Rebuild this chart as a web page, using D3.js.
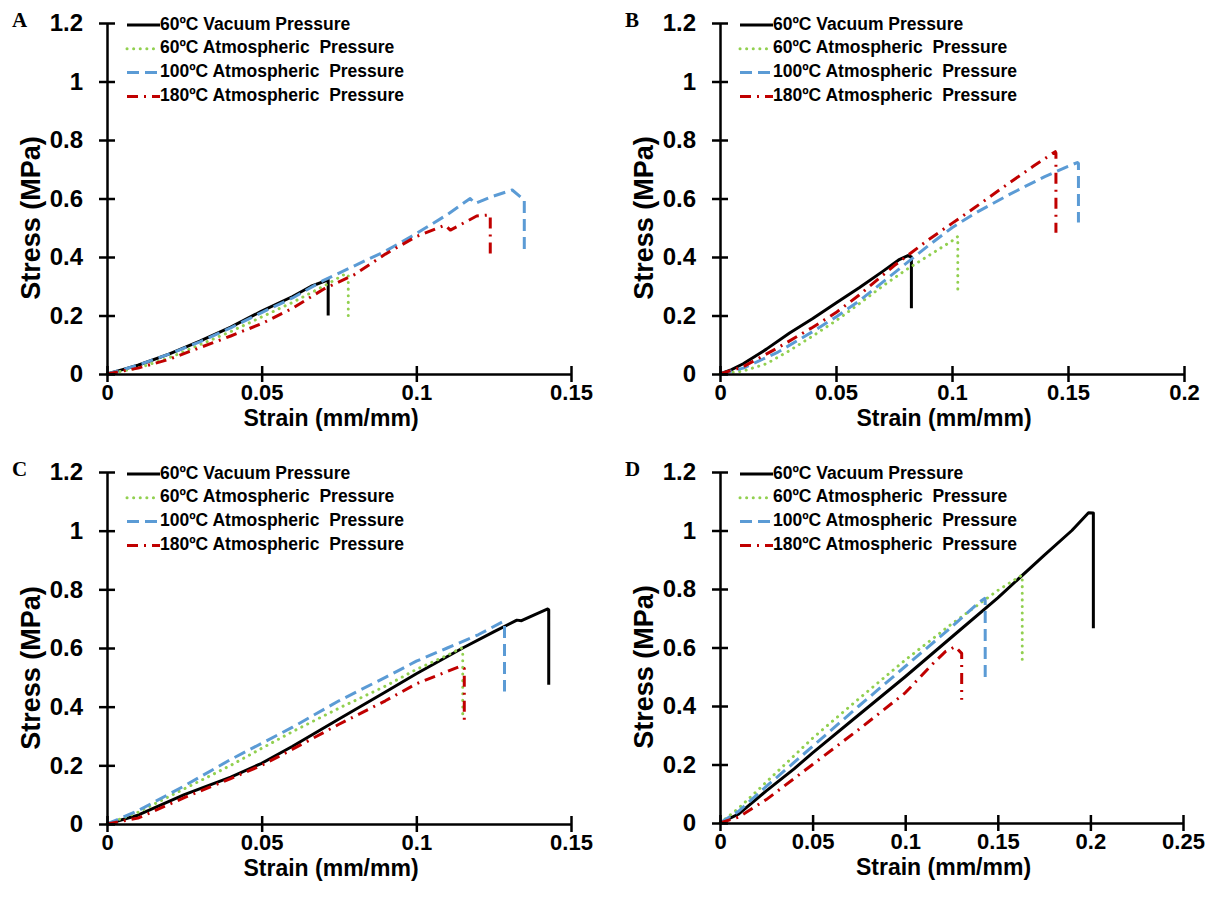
<!DOCTYPE html>
<html>
<head>
<meta charset="utf-8">
<script src="https://cdn.jsdelivr.net/npm/d3@7"></script>
<style>
  body { margin: 0; background: #fff; }
  text { font-family: Arial, "Liberation Sans", sans-serif; font-weight: bold; fill: #000; }
</style>
</head>
<body>
<svg id="chart" width="1219" height="897"></svg>
<script>
// legend labels, one per series
const seriesNames = ["60ºC Vacuum Pressure", "60ºC Atmospheric  Pressure", "100ºC Atmospheric  Pressure", "180ºC Atmospheric  Pressure"];
const panelLetters = ["A", "B", "C", "D"];

// tick values
const yTicks = [0, 0.2, 0.4, 0.6, 0.8, 1, 1.2];
const xTicksA = [0, 0.05, 0.1, 0.15];
const xTicksB = [0, 0.05, 0.1, 0.15, 0.2];
const xTicksC = [0, 0.05, 0.1, 0.15];
const xTicksD = [0, 0.05, 0.1, 0.15, 0.2, 0.25];

// [strain, stress]
const aVac60 = [[0,0],[0.005,0.015],[0.01,0.03],[0.02,0.068],[0.03,0.112],[0.04,0.16],[0.05,0.215],[0.06,0.265],[0.066,0.3],[0.0715,0.322],[0.0715,0.2]];
const aAtm60 = [[0,0],[0.01,0.02],[0.02,0.055],[0.03,0.1],[0.04,0.145],[0.05,0.195],[0.06,0.245],[0.07,0.3],[0.077,0.342],[0.078,0.34],[0.078,0.195]];
const aAtm100 = [[0,0],[0.01,0.03],[0.02,0.068],[0.03,0.11],[0.04,0.158],[0.05,0.21],[0.06,0.26],[0.07,0.32],[0.08,0.37],[0.09,0.42],[0.1,0.48],[0.11,0.545],[0.1174,0.6],[0.119,0.583],[0.124,0.605],[0.131,0.629],[0.1349,0.595],[0.1349,0.424]];
const aAtm180 = [[0,0],[0.01,0.02],[0.02,0.05],[0.03,0.09],[0.04,0.13],[0.05,0.172],[0.06,0.225],[0.07,0.29],[0.08,0.34],[0.09,0.41],[0.1,0.47],[0.1093,0.509],[0.111,0.492],[0.1195,0.54],[0.1239,0.544],[0.1239,0.41]];

const bVac60 = [[0,0],[0.005,0.015],[0.01,0.035],[0.02,0.085],[0.03,0.14],[0.04,0.19],[0.05,0.243],[0.06,0.295],[0.07,0.35],[0.077,0.39],[0.081,0.405],[0.0825,0.4],[0.0825,0.225]];
const bAtm60 = [[0,0],[0.01,0.01],[0.02,0.035],[0.03,0.08],[0.04,0.13],[0.05,0.182],[0.06,0.24],[0.07,0.3],[0.08,0.355],[0.09,0.405],[0.1,0.455],[0.1025,0.47],[0.1025,0.275]];
const bAtm100 = [[0,0],[0.01,0.02],[0.025,0.075],[0.04,0.145],[0.05,0.195],[0.06,0.25],[0.075,0.345],[0.09,0.44],[0.1,0.5],[0.11,0.55],[0.125,0.615],[0.14,0.675],[0.15,0.71],[0.154,0.723],[0.1545,0.72],[0.1545,0.518]];
const bAtm180 = [[0,0],[0.01,0.025],[0.025,0.09],[0.04,0.16],[0.05,0.21],[0.06,0.27],[0.075,0.37],[0.09,0.46],[0.1,0.515],[0.11,0.57],[0.125,0.655],[0.135,0.71],[0.1445,0.76],[0.1448,0.755],[0.1448,0.483]];

const cVac60 = [[0,0],[0.01,0.03],[0.025,0.1],[0.04,0.16],[0.05,0.207],[0.06,0.265],[0.075,0.358],[0.09,0.45],[0.1,0.512],[0.115,0.6],[0.125,0.655],[0.1325,0.695],[0.134,0.693],[0.1385,0.715],[0.1425,0.733],[0.1428,0.73],[0.1428,0.475]];
const cAtm60 = [[0,0],[0.01,0.04],[0.025,0.12],[0.04,0.2],[0.05,0.258],[0.06,0.315],[0.075,0.395],[0.09,0.47],[0.1,0.527],[0.11,0.575],[0.1145,0.6],[0.115,0.595],[0.115,0.36]];
const cAtm100 = [[0,0],[0.01,0.045],[0.025,0.13],[0.04,0.22],[0.05,0.275],[0.06,0.33],[0.075,0.42],[0.09,0.5],[0.1,0.555],[0.11,0.6],[0.12,0.645],[0.128,0.69],[0.1285,0.685],[0.1285,0.452]];
const cAtm180 = [[0,0],[0.01,0.02],[0.025,0.09],[0.04,0.155],[0.05,0.2],[0.06,0.255],[0.075,0.34],[0.09,0.42],[0.1,0.478],[0.11,0.52],[0.1142,0.538],[0.1155,0.53],[0.1155,0.355]];

const dVac60 = [[0,0],[0.01,0.03],[0.025,0.11],[0.04,0.185],[0.05,0.24],[0.075,0.37],[0.1,0.5],[0.125,0.635],[0.15,0.77],[0.175,0.915],[0.19,1.0],[0.199,1.061],[0.2016,1.06],[0.2016,0.666]];
const dAtm60 = [[0,0],[0.01,0.05],[0.025,0.14],[0.05,0.29],[0.075,0.425],[0.1,0.557],[0.125,0.68],[0.15,0.795],[0.163,0.847],[0.1632,0.845],[0.1632,0.54]];
const dAtm100 = [[0,0],[0.01,0.04],[0.025,0.125],[0.05,0.262],[0.075,0.4],[0.1,0.535],[0.125,0.67],[0.14,0.755],[0.1429,0.768],[0.1432,0.76],[0.1432,0.489]];
const dAtm180 = [[0,0],[0.01,0.02],[0.025,0.08],[0.05,0.2],[0.075,0.32],[0.1,0.445],[0.115,0.545],[0.1217,0.586],[0.127,0.603],[0.1305,0.58],[0.1305,0.421]];

const lineStyles = [
  { color: "#000000", dash: null, cap: "butt" },
  { color: "#92d050", dash: "0.1 6.5", cap: "round" },
  { color: "#5b9bd5", dash: "12 6", cap: "butt" },
  { color: "#c00000", dash: "11 6 2 6", cap: "butt" }
];

const panels = [
  { left: 107, right: 571, top: 23, bottom: 374, xMax: 0.15, xTicks: xTicksA, series: [aVac60, aAtm60, aAtm100, aAtm180] },
  { left: 720, right: 1184, top: 23, bottom: 374, xMax: 0.2, xTicks: xTicksB, series: [bVac60, bAtm60, bAtm100, bAtm180] },
  { left: 107, right: 571, top: 472, bottom: 824, xMax: 0.15, xTicks: xTicksC, series: [cVac60, cAtm60, cAtm100, cAtm180] },
  { left: 720, right: 1183, top: 472, bottom: 823, xMax: 0.25, xTicks: xTicksD, series: [dVac60, dAtm60, dAtm100, dAtm180] }
];

const svg = d3.select("#chart");

panels.forEach((p, i) => {
  const g = svg.append("g");
  const x = d3.scaleLinear().domain([0, p.xMax]).range([p.left, p.right]);
  const y = d3.scaleLinear().domain([0, 1.2]).range([p.bottom, p.top]);

  // curves
  const line = d3.line().x(d => x(d[0])).y(d => y(d[1]));
  p.series.forEach((s, k) => {
    const st = lineStyles[k];
    g.append("path")
      .datum(s)
      .attr("d", line)
      .attr("fill", "none")
      .attr("stroke", st.color)
      .attr("stroke-width", 3)
      .attr("stroke-linecap", st.cap)
      .attr("stroke-linejoin", "round")
      .attr("stroke-dasharray", st.dash);
  });

  // axes, ticks crossing the line
  const yAxis = d3.axisLeft(y).tickValues(yTicks).tickFormat(d => String(d)).tickSizeOuter(0).tickPadding(18);
  const xAxis = d3.axisBottom(x).tickValues(p.xTicks).tickFormat(d => String(d)).tickSizeOuter(0).tickPadding(4);

  g.append("g")
    .attr("transform", `translate(${p.left},0)`)
    .call(yAxis)
    .call(a => a.select(".domain").attr("stroke-width", 2.5))
    .call(a => a.selectAll(".tick line").attr("x1", -8).attr("x2", 8).attr("stroke-width", 2.5))
    .call(a => a.selectAll(".tick text").attr("font-size", 24).attr("font-family", null));

  g.append("g")
    .attr("transform", `translate(0,${p.bottom})`)
    .call(xAxis)
    .call(a => a.select(".domain").attr("stroke-width", 2.5))
    .call(a => a.selectAll(".tick line").attr("y1", -8).attr("y2", 8).attr("stroke-width", 2.5))
    .call(a => a.selectAll(".tick text").attr("font-size", 22).attr("font-family", null));

  // axis titles
  g.append("text")
    .attr("transform", `translate(${p.left - 74},${p.bottom - 156}) rotate(-90)`)
    .attr("text-anchor", "middle")
    .attr("dominant-baseline", "middle")
    .attr("font-size", 27)
    .text("Stress (MPa)");

  g.append("text")
    .attr("x", (p.left + p.right) / 2 - 8)
    .attr("y", p.bottom + 52)
    .attr("text-anchor", "middle")
    .attr("font-size", 23)
    .text("Strain (mm/mm)");

  // panel letter
  g.append("text")
    .attr("x", p.left - 95)
    .attr("y", p.top + 4)
    .style("font-family", "'Liberation Serif', 'Times New Roman', serif")
    .attr("font-size", 21)
    .text(panelLetters[i]);

  // legend
  const lx = p.left + 20;
  seriesNames.forEach((name, k) => {
    const ly = p.top + 2 + k * 23.8;
    const st = lineStyles[k];
    g.append("line")
      .attr("x1", lx).attr("x2", lx + 33)
      .attr("y1", ly).attr("y2", ly)
      .attr("stroke", st.color)
      .attr("stroke-width", 3)
      .attr("stroke-linecap", st.cap)
      .attr("stroke-dasharray", st.dash);
    g.append("text")
      .attr("x", lx + 33)
      .attr("y", ly)
      .attr("dominant-baseline", "middle")
      .attr("font-size", 17.5)
      .style("white-space", "pre")
      .text(name);
  });
});
</script>
</body>
</html>
